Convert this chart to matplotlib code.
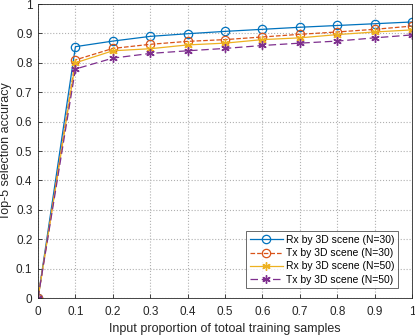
import matplotlib
matplotlib.use('Agg')
import matplotlib.pyplot as plt

# fracciones de entrenamiento
x = [0, 0.1, 0.2, 0.3, 0.4, 0.5, 0.6, 0.7, 0.8, 0.9, 1.0]

rx_30 = [0, 0.855, 0.874, 0.890, 0.899, 0.907, 0.914, 0.921, 0.927, 0.933, 0.939]
tx_30 = [0, 0.810, 0.849, 0.863, 0.873, 0.879, 0.888, 0.897, 0.905, 0.914, 0.925]
rx_50 = [0, 0.800, 0.841, 0.848, 0.861, 0.867, 0.879, 0.885, 0.896, 0.905, 0.912]
tx_50 = [0, 0.779, 0.816, 0.832, 0.841, 0.849, 0.859, 0.867, 0.874, 0.885, 0.895]

labels = ['Rx by 3D scene (N=30)', 'Tx by 3D scene (N=30)',
          'Rx by 3D scene (N=50)', 'Tx by 3D scene (N=50)']

plt.rcParams['font.family'] = ['Liberation Sans', 'DejaVu Sans']
plt.rcParams['font.size'] = 8.5

fig = plt.figure(figsize=(4.15, 3.35), dpi=100)
ax = fig.add_axes([0.0916, 0.110, 0.9014, 0.878])

ax.plot(x, rx_30, '-', color='#0072BD', marker='o', mfc='none', ms=6, mew=0.9, lw=0.9, label=labels[0])
ax.plot(x, tx_30, '--', color='#D95319', marker='o', mfc='none', ms=6, mew=0.9, lw=0.9, label=labels[1])
ax.plot(x, rx_50, '-', color='#EDB120', marker=(6, 2, 0), ms=6, mew=1.0, lw=0.9, label=labels[2])
ax.plot(x, tx_50, '--', color='#7E2F8E', marker=(6, 2, 0), ms=6, mew=1.0, lw=0.9, label=labels[3], dashes=(6, 3))

ax.set_xlim(0, 1)
ax.set_ylim(0, 1)
ax.set_xticks([i / 10 for i in range(11)])
ax.set_yticks([i / 10 for i in range(11)])
ax.set_xticklabels(['0', '0.1', '0.2', '0.3', '0.4', '0.5', '0.6', '0.7', '0.8', '0.9', '1'])
ax.set_yticklabels(['0', '0.1', '0.2', '0.3', '0.4', '0.5', '0.6', '0.7', '0.8', '0.9', '1'])
ax.grid(True, linestyle=':', color='#b0b0b0', lw=0.8)
ax.tick_params(direction='in', length=3, width=0.6, color='#262626', labelcolor='#262626', pad=4)
ax.tick_params(axis='x', pad=6)
for s in ax.spines.values():
  s.set_color('#262626')
  s.set_linewidth(0.6)

ax.set_xlabel('Input proportion of totoal training samples', color='#262626', fontsize=9, labelpad=3)
ax.set_ylabel('Top-5 selection accuracy', color='#262626', fontsize=9, labelpad=3)

leg = ax.legend(loc='lower right', fancybox=False, edgecolor='#262626', fontsize=7.5,
                handlelength=3.2, borderpad=0.35, labelspacing=0.3, handletextpad=0.3,
                borderaxespad=0, bbox_to_anchor=(0.963, 0.034))
leg.get_frame().set_linewidth(0.6)

fig.savefig('out.png', dpi=100)
